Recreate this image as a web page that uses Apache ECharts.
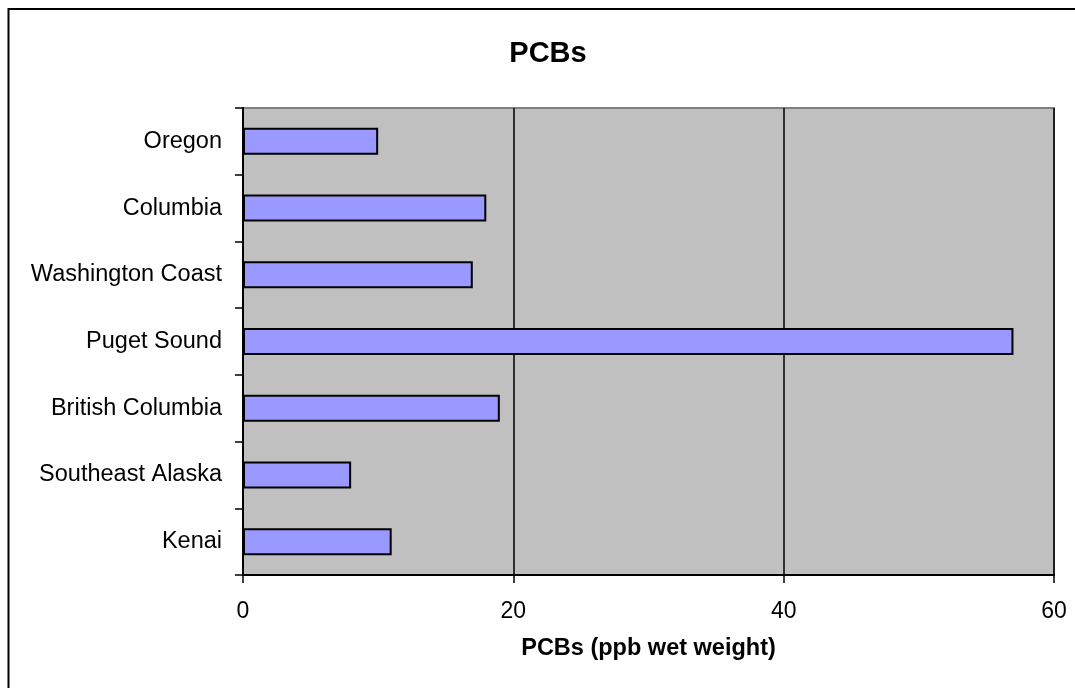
<!DOCTYPE html>
<html>
<head>
<meta charset="utf-8">
<script src="https://cdn.jsdelivr.net/npm/echarts@6/dist/echarts.min.js"></script>
<style>
html,body{margin:0;padding:0;background:#fff;}
#chart{width:1075px;height:688px;}
</style>
</head>
<body>
<div id="chart"></div>
<script>
const categories = ["Oregon", "Columbia", "Washington Coast", "Puget Sound", "British Columbia", "Southeast Alaska", "Kenai"];
const pcbValues = [10, 18, 17, 57, 19, 8, 11];
const xTicks = { min: 0, max: 60, interval: 20 };
const titleText = "PCBs";
const xAxisName = "PCBs (ppb wet weight)";

const chart = echarts.init(document.getElementById('chart'));
const font = 'Liberation Sans, Arial, sans-serif';
chart.setOption({
  animation: false,
  backgroundColor: '#ffffff',
  graphic: [{
    type: 'rect',
    shape: { x: 8.5, y: 9, width: 1100, height: 700 },
    style: { fill: 'none', stroke: '#000', lineWidth: 2 },
    z: 100
  }],
  title: {
    text: titleText,
    left: 543,
    top: 34,
    textAlign: 'center',
    textStyle: { fontFamily: font, fontSize: 29, fontWeight: 'bold', color: '#000' }
  },
  grid: {
    left: 243, right: 21, top: 108, bottom: 113,
    show: true, backgroundColor: '#c0c0c0', borderColor: '#808080', borderWidth: 2
  },
  xAxis: {
    type: 'value',
    min: xTicks.min, max: xTicks.max, interval: xTicks.interval,
    name: xAxisName,
    nameLocation: 'middle',
    nameGap: 62,
    nameTextStyle: { fontFamily: font, fontSize: 23.5, fontWeight: 'bold', color: '#000' },
    axisLine: { show: true, lineStyle: { color: '#000', width: 2 } },
    axisTick: { show: true, length: 8, lineStyle: { color: '#000', width: 1.5 } },
    axisLabel: { fontFamily: font, fontSize: 23, color: '#000', margin: 25 },
    splitLine: { show: true, lineStyle: { color: '#000', width: 1.5 } }
  },
  yAxis: {
    type: 'category',
    data: categories,
    inverse: true,
    axisLine: { show: true, lineStyle: { color: '#000', width: 2 } },
    axisTick: { show: true, length: 8, lineStyle: { color: '#000', width: 1.5 } },
    axisLabel: { fontFamily: font, fontSize: 23.5, color: '#000', margin: 21 },
    splitLine: { show: false }
  },
  series: [{
    type: 'bar',
    data: pcbValues,
    barWidth: 27,
    itemStyle: { color: '#9999ff', borderColor: '#000', borderWidth: 2 }
  }]
});
</script>
</body>
</html>
